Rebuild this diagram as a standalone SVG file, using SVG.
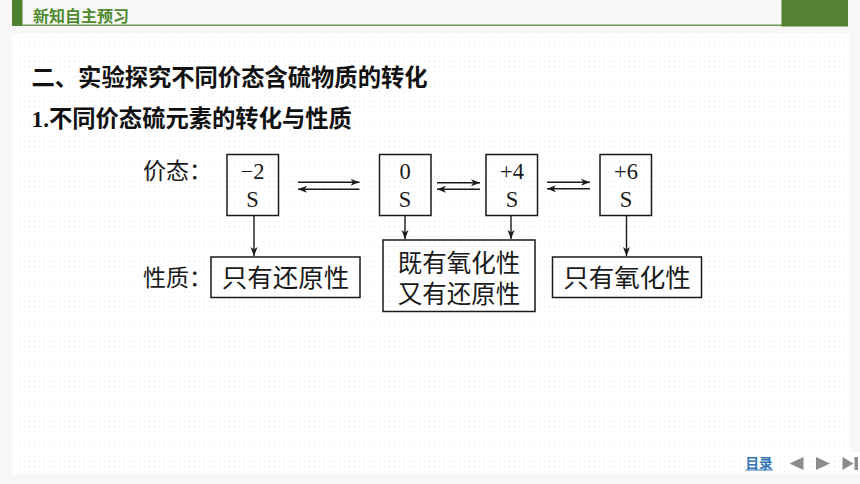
<svg xmlns="http://www.w3.org/2000/svg" width="860" height="484" viewBox="0 0 860 484">
<style>
.cjk{font-family:"Noto Sans CJK SC","Noto Sans",sans-serif;fill:#1a1a1a}
.num{font-family:"Liberation Serif","DejaVu Serif",serif;fill:#1a1a1a;text-anchor:middle;font-size:22.5px}
.box{fill:none;stroke:#1a1a1a;stroke-width:1.5}
.conn{stroke:#1a1a1a;stroke-width:1.4;fill:none}
.lbl{font-size:25.5px;text-anchor:middle}
.lbl2{font-size:24.5px;text-anchor:middle}
.side{font-size:23px}
</style>
<defs>
<pattern id="dots" x="12" y="34" width="5" height="5" patternUnits="userSpaceOnUse">
<rect x="2" y="2" width="1" height="1" fill="#ebebeb"/>
</pattern>
<marker id="ah" markerWidth="10" markerHeight="8" refX="9" refY="4" orient="auto" markerUnits="userSpaceOnUse">
<path d="M0,0.5 L9,4 L0,7.5 L2.5,4 Z" fill="#1a1a1a"/>
</marker>
</defs>
<rect x="0" y="0" width="860" height="484" fill="#f7f7f7"/>
<rect x="12" y="34" width="838" height="440" fill="#ffffff"/>
<rect x="12" y="452" width="848" height="22" fill="#ffffff"/>
<rect x="12" y="34" width="838" height="440" fill="url(#dots)"/>
<g id="header">
<rect x="12" y="0" width="10.5" height="26" fill="#4f7f30"/>
<line x1="22" y1="25.3" x2="782" y2="25.3" stroke="#6e9a4f" stroke-width="1.6"/>
<rect x="781.5" y="0" width="66.5" height="26.5" fill="#548235"/>
<text x="33" y="21.5" class="cjk" style="font-size:16px;font-weight:700;fill:#4f8a2e">新知自主预习</text>
</g>
<g id="titles">
<text x="31.5" y="86" class="cjk" style="font-size:23.3px;font-weight:700;fill:#111">二、实验探究不同价态含硫物质的转化</text>
<text x="31.5" y="127" class="cjk" style="font-size:23.3px;font-weight:700;fill:#111"><tspan style="font-family:'Liberation Serif',serif">1.</tspan>不同价态硫元素的转化与性质</text>
</g>
<g id="label-valence"><text x="143" y="178.5" class="cjk side">价态：</text></g>
<g id="label-property"><text x="143" y="286" class="cjk side">性质：</text></g>
<g id="s-minus2">
<rect x="227" y="154.5" width="51.5" height="61" class="box"/>
<text x="252.5" y="178.5" class="num">−2</text>
<text x="252.5" y="207" class="num">S</text>
</g>
<g id="s-0">
<rect x="379.5" y="154.5" width="51.5" height="61" class="box"/>
<text x="405" y="178.5" class="num">0</text>
<text x="405" y="207" class="num">S</text>
</g>
<g id="s-plus4">
<rect x="486" y="154.5" width="51.5" height="61" class="box"/>
<text x="512" y="178.5" class="num">+4</text>
<text x="512" y="207" class="num">S</text>
</g>
<g id="s-plus6">
<rect x="600" y="154.5" width="51.5" height="61" class="box"/>
<text x="626" y="178.5" class="num">+6</text>
<text x="626" y="207" class="num">S</text>
</g>
<g id="reducing">
<rect x="211" y="257" width="149" height="40.5" class="box"/>
<text x="285.5" y="286.5" class="cjk lbl">只有还原性</text>
</g>
<g id="both">
<rect x="383" y="240" width="152" height="71.5" class="box"/>
<text x="459" y="271.5" class="cjk lbl2">既有氧化性</text>
<text x="459" y="302.5" class="cjk lbl2">又有还原性</text>
</g>
<g id="oxidizing">
<rect x="552.5" y="257" width="149" height="40.5" class="box"/>
<text x="627" y="286.5" class="cjk lbl">只有氧化性</text>
</g>
<g id="connectors">
<line x1="298" y1="182.3" x2="359.5" y2="182.3" class="conn" marker-end="url(#ah)"/>
<line x1="359.5" y1="189.3" x2="298" y2="189.3" class="conn" marker-end="url(#ah)"/>
<line x1="437" y1="182.8" x2="480" y2="182.8" class="conn" marker-end="url(#ah)"/>
<line x1="480" y1="189.3" x2="437" y2="189.3" class="conn" marker-end="url(#ah)"/>
<line x1="547" y1="182.3" x2="590" y2="182.3" class="conn" marker-end="url(#ah)"/>
<line x1="590" y1="188.8" x2="547" y2="188.8" class="conn" marker-end="url(#ah)"/>
<line x1="254" y1="215.5" x2="254" y2="256" class="conn" marker-end="url(#ah)"/>
<line x1="405" y1="215.5" x2="405" y2="239" class="conn" marker-end="url(#ah)"/>
<line x1="511" y1="215.5" x2="511" y2="239" class="conn" marker-end="url(#ah)"/>
<line x1="626.5" y1="215.5" x2="626.5" y2="256" class="conn" marker-end="url(#ah)"/>
</g>
<g id="nav">
<text x="745.5" y="467.5" class="cjk" style="font-size:13.5px;font-weight:700;fill:#2e74b5">目录</text>
<line x1="745.5" y1="470" x2="773" y2="470" stroke="#2e74b5" stroke-width="1"/>
<polygon points="789.5,463.5 803.5,457 803.5,470" fill="#8c8c8c"/>
<polygon points="816,457 830,463.5 816,470" fill="#8c8c8c"/>
<polygon points="842.5,457 853.5,463.5 842.5,470" fill="#8c8c8c"/>
<rect x="854.5" y="457" width="3.5" height="13" fill="#8c8c8c"/>
</g>
</svg>
